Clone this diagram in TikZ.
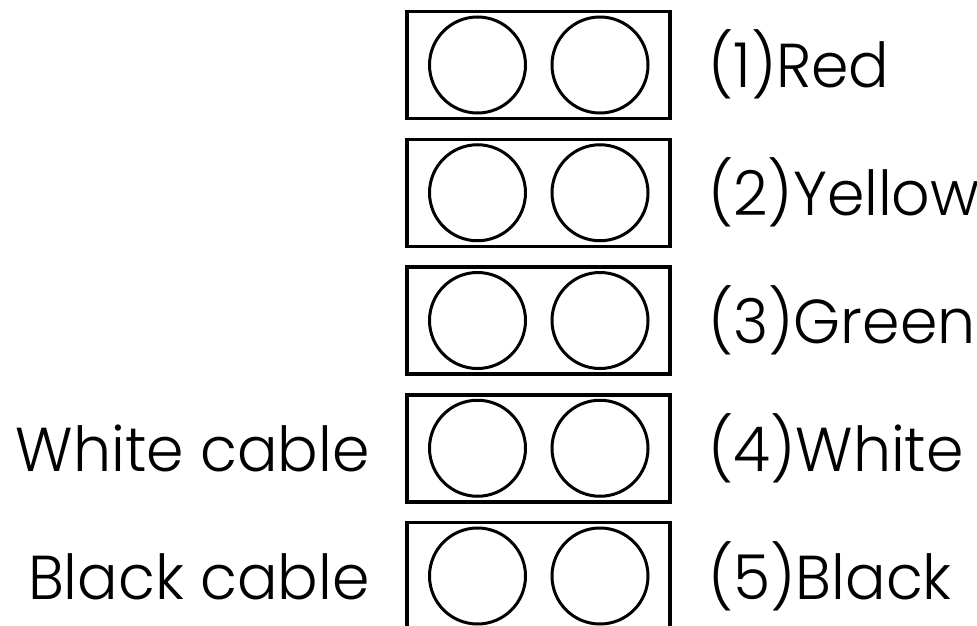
\documentclass[tikz,border=0pt]{standalone}
\usepackage{fontspec}
\setmainfont{Poppins Light}[FakeStretch=0.97]
\usetikzlibrary{positioning}

\begin{document}
\begin{tikzpicture}[
    x=1pt, y=1pt,
    plate/.style={rectangle, draw, line width=3.5pt, minimum width=263pt, minimum height=107pt, inner sep=0pt},
    hole/.style={circle, draw, line width=3pt, minimum size=96pt, inner sep=0pt},
    lbl/.style={inner sep=0pt, font=\fontsize{62}{70}\selectfont}
]
    \useasboundingbox (0,0) rectangle (977,-626);
    \clip (0,0) rectangle (977,-626);

    % Plates with two holes each
    \foreach \i/\txt in {1/{(1)Red}, 2/{(2)Yellow}, 3/{(3)Green}, 4/{(4)White}, 5/{(5)Black}} {
        \pgfmathsetmacro\y{-65-(\i-1)*127.75}
        \node [plate] (plate\i) at (538.5,\y) {};
        \node [hole] (holeL\i) at (477.5,\y) {};
        \node [hole] (holeR\i) at (600,\y) {};
        \node [lbl, anchor=base west] (color\i) at (708,\y-23) {\txt};
    }

    % Cable labels
    \node [lbl, anchor=base east] (white) at (370,-448-23) {White cable};
    \node [lbl, anchor=base east] (black) at (370,-576-23) {Black cable};

\end{tikzpicture}
\end{document}
